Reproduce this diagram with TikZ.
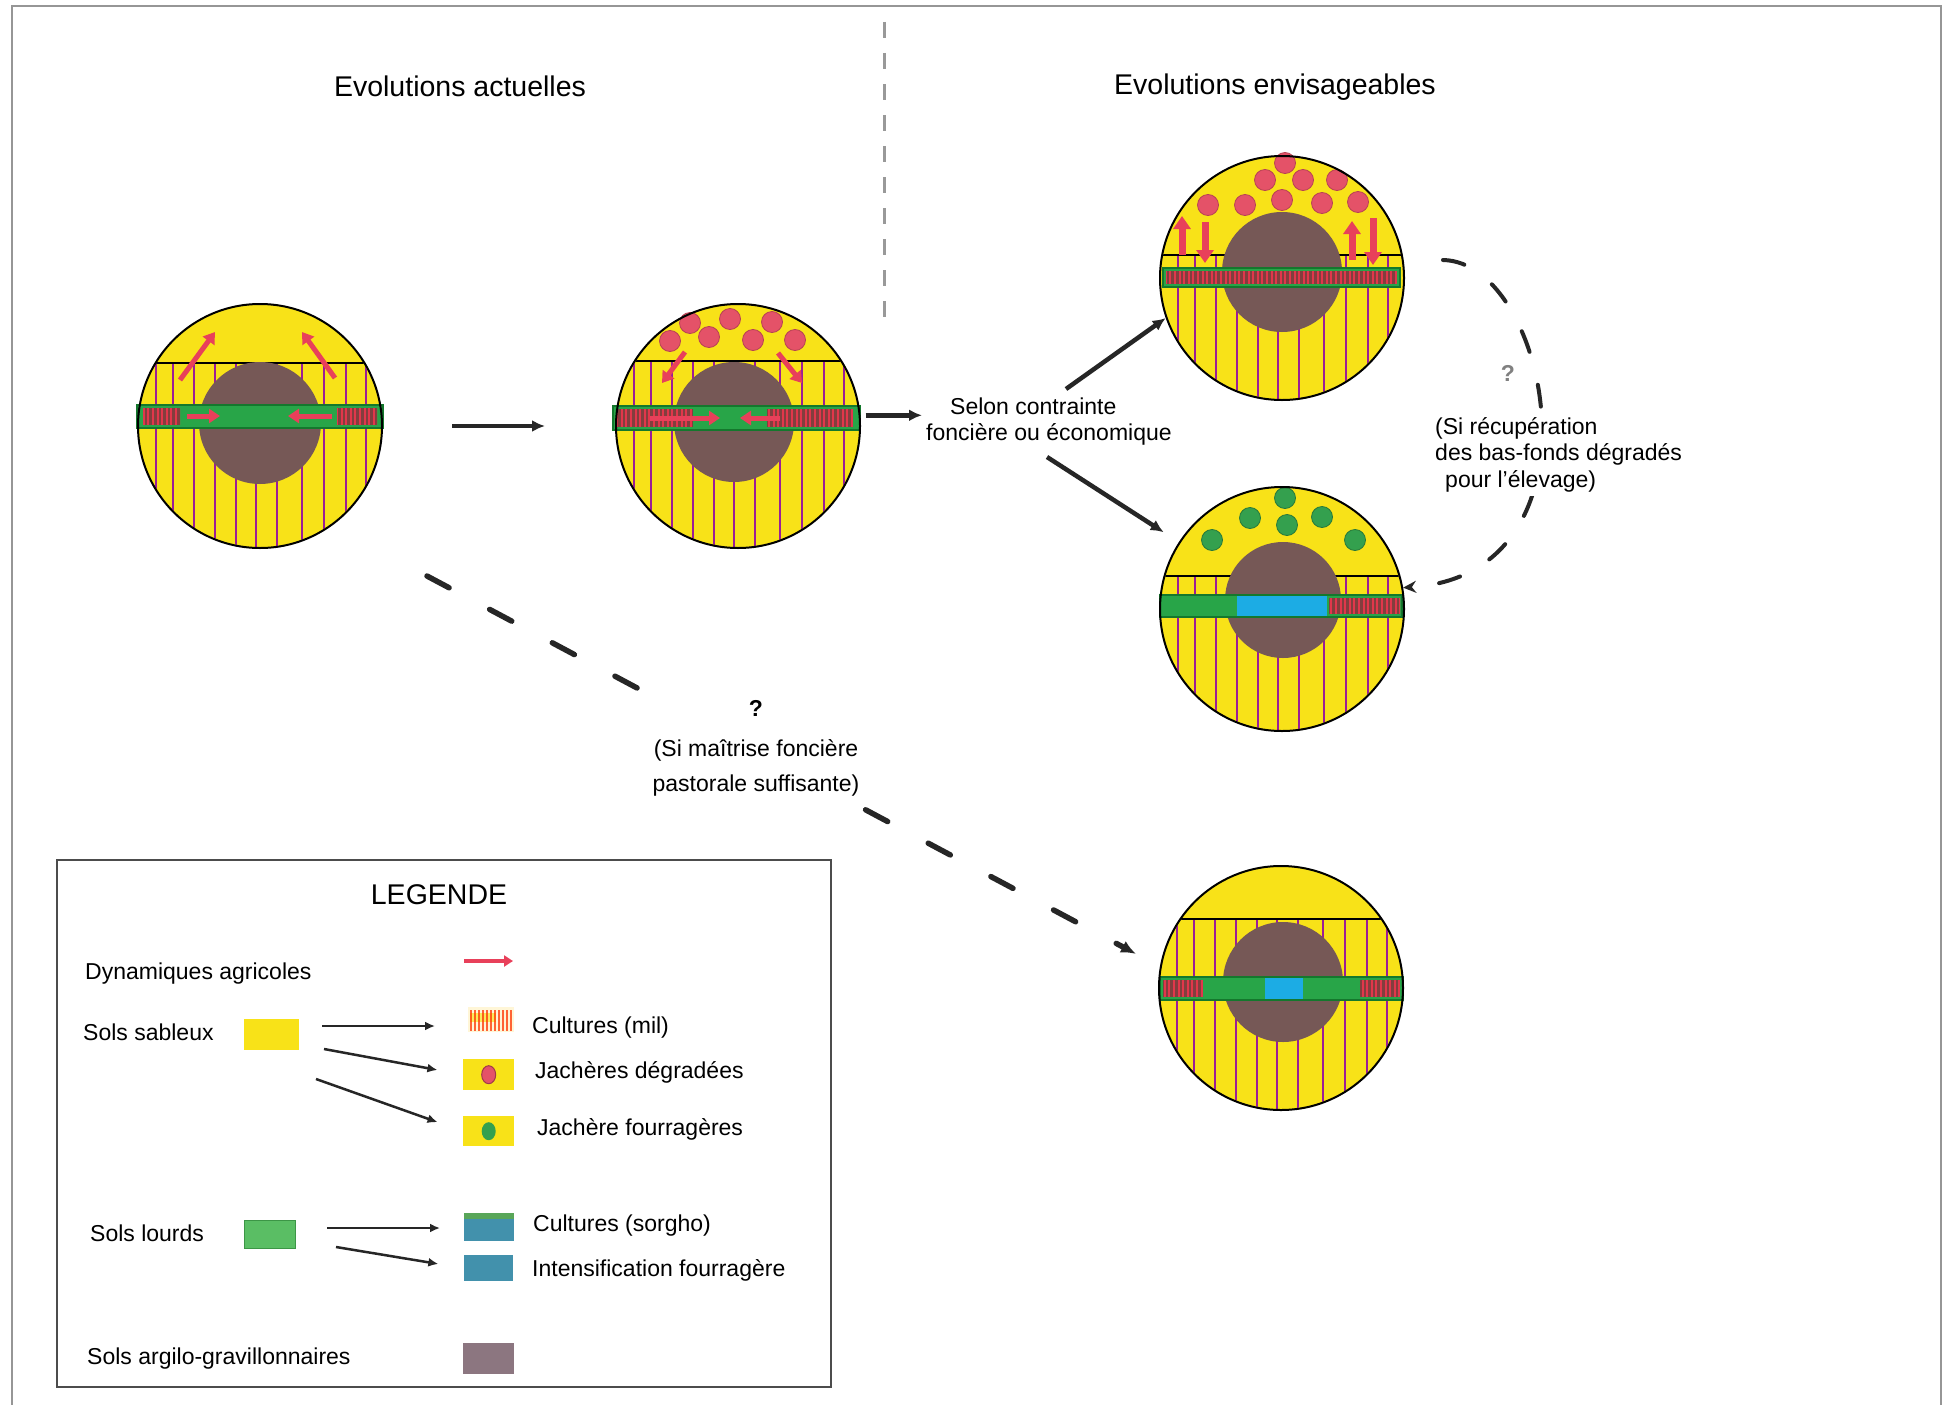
\documentclass[tikz,border=0pt]{standalone}
\usepackage{fontspec}
\setmainfont{Liberation Sans}
\usetikzlibrary{arrows.meta,calc}

\definecolor{sandy}{RGB}{248,226,24}
\definecolor{furrow}{RGB}{155,30,150}
\definecolor{clay}{RGB}{118,88,86}
\definecolor{heavy}{RGB}{40,165,72}
\definecolor{heavyedge}{RGB}{20,120,45}
\definecolor{hatchbg}{RGB}{130,62,62}
\definecolor{hatchred}{RGB}{225,55,75}
\definecolor{dynred}{RGB}{232,64,90}
\definecolor{fallowred}{RGB}{228,82,104}
\definecolor{foragegreen}{RGB}{52,160,78}
\definecolor{intensblue}{RGB}{28,172,228}
\definecolor{legteal}{RGB}{66,145,172}
\definecolor{legmauve}{RGB}{140,118,128}
\definecolor{framegray}{RGB}{150,150,150}

% yellow disc, furrows below the field limit, clay core
\newcommand\soilbase[4]{%
  \fill[sandy] (0,0) circle (122);
  \begin{scope}
    \clip (0,0) circle (121);
    \foreach \xx in {-104,-87,-66,-45,-24,-4,17,42,64,86,106}
      \draw[furrow, line width=1.8] (\xx,#1) -- (\xx,125);
    \draw[black, line width=1.6] (-125,#1) -- (125,#1);
  \end{scope}
  \fill[clay] (#2,#3) circle (#4);
}
% red-striped cultivated strip
\newcommand\hatchseg[4]{%
  \begin{scope}
    \clip (#1,#2) rectangle (#3,#4);
    \fill[hatchbg] (#1,#2) rectangle (#3,#4);
    \foreach \xx in {-130,-125.4,...,130}
      \draw[hatchred, line width=2] (\xx,#2) -- (\xx,#4);
  \end{scope}
}

\begin{document}
\begin{tikzpicture}[x=1pt,y=-1pt,
  circ/.style={circle, draw=black, line width=2, minimum size=244pt, inner sep=0pt},
  dyn/.style={draw=dynred, line width=5, -{Triangle[length=11pt,width=14pt]}},
  dynbig/.style={draw=dynred, line width=7, -{Triangle[length=13pt,width=17pt]}},
  fdot/.style={fill=fallowred, draw=fallowred!80!black, line width=0.8},
  gdot/.style={fill=foragegreen, draw=foragegreen!75!black, line width=0.8},
  band/.style={fill=heavy, draw=heavyedge, line width=1.2},
  conn/.style={draw=black!85, line width=4.5, -{Latex[length=13pt,width=12pt]}},
  legarr/.style={draw=black!85, line width=2.5, -{Latex[length=10pt,width=9pt]}},
  dashconn/.style={draw=black!85, line width=5.5, line cap=round, dash pattern=on 25pt off 46pt, -{Latex[length=15pt,width=13pt]}},
  curvconn/.style={draw=black!85, line width=4, line cap=round, dash pattern=on 22pt off 34pt, -{Stealth[length=13pt,width=12pt]}},
  lbl/.style={font=\fontsize{23}{26}\selectfont, inner sep=0pt},
  headtxt/.style={font=\fontsize{28.5}{32}\selectfont, inner sep=0pt},
  swatch/.style={rectangle, inner sep=0pt, anchor=north west}]

\useasboundingbox (0,0) rectangle (1954,1405);
\fill[white] (0,0) rectangle (1954,1405);

% page frame and separator
\draw[framegray, line width=2.5] (12,1405) -- (12,6) -- (1941,6) -- (1941,1405);
\draw[gray!80, line width=3, dash pattern=on 16pt off 15pt] (884,22) -- (884,330);

\node[headtxt, anchor=base] (t1) at (460,96) {Evolutions actuelles};
\node[headtxt, anchor=base] (t2) at (1275,95) {Evolutions envisageables};

% ---------- circle 1 : current state
\begin{scope}[shift={(260,426)}]
  \soilbase{-63}{0}{-3}{61}
  \filldraw[band] (-123,-21) rectangle (123,2);
  \hatchseg{-117}{-18}{-80}{-1}
  \hatchseg{77}{-18}{117}{-1}
  \draw[dyn] (-73,-10) -- (-40,-10);
  \draw[dyn] (72,-10) -- (28,-10);
  \draw[dyn] (-80,-46) -- (-45,-94);
  \draw[dyn] (75,-48) -- (42,-94);
\end{scope}
\node[circ] (c1) at (260,426) {};

% ---------- circle 2
\begin{scope}[shift={(738,426)}]
  \soilbase{-65}{-4}{-4}{60}
  \foreach \p in {(-48,-103),(-8,-107),(34,-104),(-68,-85),(-29,-89),(15,-86),(57,-86)}
    \filldraw[fdot] \p circle (10.5);
  \filldraw[band] (-125,-20) rectangle (122,4);
  \hatchseg{-121}{-17}{-45}{1}
  \hatchseg{29}{-17}{115}{1}
  \draw[dyn] (-88,-8) -- (-18,-8);
  \draw[dyn] (42,-8) -- (2,-8);
  \draw[dyn] (-53,-74) -- (-76,-43);
  \draw[dyn] (40,-73) -- (64,-43);
\end{scope}
\node[circ] (c2) at (738,426) {};

% ---------- circle 3
\begin{scope}[shift={(1282,278)}]
  \soilbase{-23}{0}{-6}{60}
  \foreach \p in {(3,-115),(-17,-98),(21,-98),(55,-98),(-74,-73),(-37,-73),(0,-78),(40,-75),(76,-76)}
    \filldraw[fdot] \p circle (10.5);
  \filldraw[band] (-119,-10) rectangle (118,9);
  \hatchseg{-116}{-7}{115}{6}
  \draw[dynbig] (-100,-23) -- (-100,-62);
  \draw[dynbig] (-77,-56) -- (-77,-15);
  \draw[dynbig] (70,-18) -- (70,-57);
  \draw[dynbig] (91,-60) -- (91,-13);
\end{scope}
\node[circ] (c3) at (1282,278) {};

% ---------- circle 4
\begin{scope}[shift={(1282,609)}]
  \soilbase{-33}{1}{-9}{58}
  \foreach \p in {(3,-111),(-32,-91),(5,-84),(40,-92),(-70,-69),(73,-69)}
    \filldraw[gdot] \p circle (10.5);
  \filldraw[band] (-122,-14) rectangle (120,8);
  \fill[intensblue] (-45,-13) rectangle (45,7);
  \hatchseg{47}{-11}{118}{5}
\end{scope}
\node[circ] (c4) at (1282,609) {};

% ---------- circle 5
\begin{scope}[shift={(1281,988)}]
  \soilbase{-69}{2}{-6}{60}
  \filldraw[band] (-121,-11) rectangle (122,12);
  \hatchseg{-118}{-8}{-78}{9}
  \hatchseg{79}{-8}{119}{9}
  \fill[intensblue] (-16,-10) rectangle (22,11);
\end{scope}
\node[circ] (c5) at (1281,988) {};

% ---------- labels between circles
\node[lbl, align=left, anchor=north west] (sel) at (926,398)
  {\hspace*{24pt}Selon contrainte\\foncière ou économique};

% ---------- connectors
\draw[conn, shorten <=69pt, shorten >=70pt] (c1) -- (c2);
\draw[conn, shorten <=5pt, shorten >=4pt] (c2.5) -- (c2.5 -| sel.west);
\coordinate (s3) at (1066,389);
\draw[conn] (s3) -- (c3.199);
\coordinate (s4) at (1047,457);
\draw[conn, shorten >=18pt] (s4) -- (c4.147);
\coordinate (d1) at (427,576);
\draw[dashconn, shorten >=27pt] (d1) -- (c5.170);
\coordinate (q3) at (1443,260);
\draw[curvconn] (q3) .. controls (1550,262) and (1610,575) .. (c4.10);

% conditions written over the dashed connectors
\node[lbl, align=center, anchor=north, fill=white, inner sep=4pt,
      font=\fontsize{23}{35}\selectfont] (cond1) at (756,696)
  {\textbf{?}\\[5pt](Si maîtrise foncière\\pastorale suffisante)};
\node[lbl, align=left, anchor=north west, fill=white, inner sep=4pt,
      font=\fontsize{23}{26.5}\selectfont] (cond2) at (1431,413)
  {(Si récupération\\des bas-fonds dégradés\\\hspace*{10pt}pour l'élevage)};
\node[lbl, text=gray] (q2) at (1508,373) {\textbf{?}};

% ---------- legend
\draw[gray!60!black, line width=2.5] (57,860) rectangle (831,1387);
\node[headtxt] (legt) at (439,895) {LEGENDE};

\node[lbl, anchor=base west] (ldyn) at (85,979) {Dynamiques agricoles};
\draw[dynred, line width=4, -{Triangle[length=9pt,width=11pt]}] (464,961) -- (513,961);

\node[lbl, anchor=base west] (lsab) at (83,1040) {Sols sableux};
\node[swatch, fill=sandy, minimum width=55pt, minimum height=31pt] (syel) at (244,1019) {};

\node[swatch, fill={rgb,255:red,255;green,246;blue,215}, minimum width=46pt, minimum height=25pt] (smil) at (468,1007) {};
\fill[sandy!70] (470,1013) rectangle (496,1022);
\foreach \xx in {471,475,...,512}
  \draw[red!60!orange, opacity=0.75, line width=1.3] (\xx,1010) -- (\xx,1031);
\node[lbl, anchor=base west] (lmil) at (532,1033) {Cultures (mil)};

\node[swatch, fill=sandy, minimum width=51pt, minimum height=31pt] (sjd) at (463,1059) {};
\filldraw[fill=fallowred, draw=fallowred!70!black, line width=1] (sjd.center) ellipse (7 and 9);
\node[lbl, anchor=base west] (ljd) at (535,1078) {Jachères dégradées};

\node[swatch, fill=sandy, minimum width=51pt, minimum height=30pt] (sjf) at (463,1116) {};
\fill[foragegreen] (sjf.center) ellipse (7 and 9);
\node[lbl, anchor=base west] (ljf) at (537,1135) {Jachère fourragères};

\coordinate (la1) at (322,1026);
\draw[legarr, shorten >=33pt] (la1) -- (la1 -| smil.west);
\coordinate (la2) at (324,1049);
\draw[legarr, shorten >=26pt] (la2) -- (sjd.west);
\coordinate (la3) at (316,1079);
\draw[legarr, shorten >=27pt] (la3) -- (sjf.west);

\node[lbl, anchor=base west] (llou) at (90,1241) {Sols lourds};
\node[swatch, fill={rgb,255:red,90;green,190;blue,100}, draw={rgb,255:red,60;green,150;blue,70}, line width=1, minimum width=51pt, minimum height=28pt] (sgrn) at (244,1220) {};

\node[swatch, fill=legteal, minimum width=50pt, minimum height=28pt] (ssor) at (464,1213) {};
\fill[gray!70!green] (464,1213) rectangle (514,1219);
\node[lbl, anchor=base west] (lsor) at (533,1231) {Cultures (sorgho)};

\node[swatch, fill=legteal, minimum width=49pt, minimum height=26pt] (sint) at (464,1255) {};
\node[lbl, anchor=base west] (lint) at (532,1276) {Intensification fourragère};

\coordinate (la4) at (327,1228);
\draw[legarr, shorten >=24pt] (la4) -- (la4 -| ssor.west);
\coordinate (la5) at (336,1247);
\draw[legarr, shorten >=26pt] (la5) -- (sint.west);

\node[lbl, anchor=base west] (larg) at (87,1364) {Sols argilo-gravillonnaires};
\node[swatch, fill=legmauve, minimum width=51pt, minimum height=31pt] (sarg) at (463,1343) {};

\end{tikzpicture}
\end{document}
